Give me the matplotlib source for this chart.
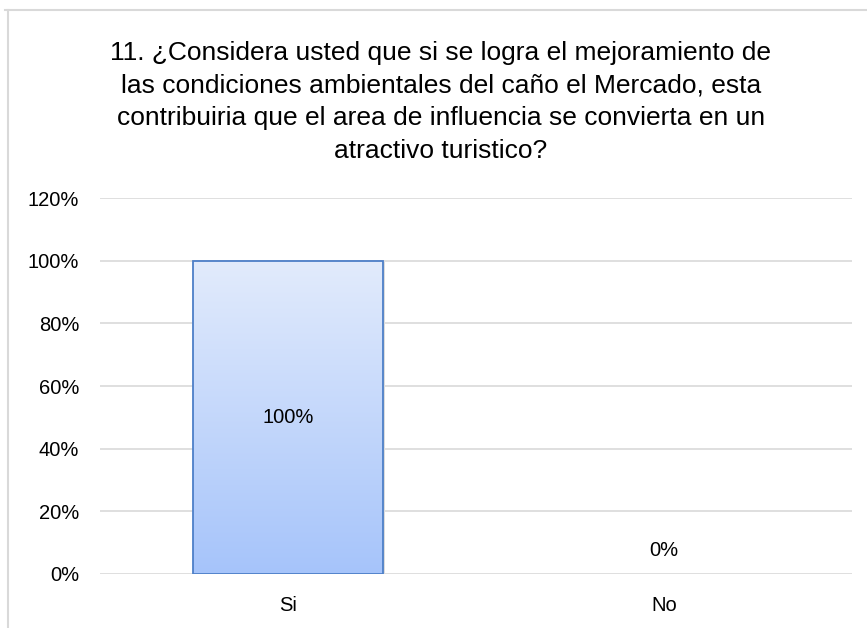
import numpy as np
import matplotlib
matplotlib.use("Agg")
import matplotlib.pyplot as plt
from matplotlib.colors import LinearSegmentedColormap
from matplotlib.lines import Line2D

# =========================
# Data
# =========================
categories = ["Si", "No"]
values = [1.00, 0.00]
labels = ["100%", "0%"]
yticks = [0.0, 0.2, 0.4, 0.6, 0.8, 1.0, 1.2]
title = ("11. ¿Considera usted que si se logra el mejoramiento de\n"
         "las condiciones ambientales del caño el Mercado, esta\n"
         "contribuiria que el area de influencia se convierta en un\n"
         "atractivo turistico?")

plt.rcParams["font.family"] = ["Liberation Sans", "DejaVu Sans"]

fig = plt.figure(figsize=(8.67, 6.28), dpi=100)
ax = fig.add_axes([0.1153, 0.086, 0.8674, 0.5987])

x = np.arange(len(categories))
bars = ax.bar(x, values, width=0.505, facecolor="none",
              edgecolor="#4d7fc8", linewidth=1.3, zorder=3)

# gradient fill inside each bar
cmap = LinearSegmentedColormap.from_list("grad", ["#a6c4fa", "#e2ebfc"])
grad = np.linspace(0, 1, 256).reshape(-1, 1)
for b in bars:
    h = b.get_height()
    if h <= 0:
        b.set_edgecolor("none")
        continue
    bx, bw = b.get_x(), b.get_width()
    # soft shadow
    ax.bar(bx + bw / 2 + 0.006, h, width=bw, bottom=-0.004,
           color="#dcdcdc", zorder=2, linewidth=0)
    im = ax.imshow(grad, cmap=cmap, origin="lower", aspect="auto",
                   extent=[bx, bx + bw, 0, h], zorder=2.5)
    im.set_clip_path(b)

# data labels
for xi, v, lab in zip(x, values, labels):
    if v > 0:
        ax.text(xi, v / 2, lab, ha="center", va="center", fontsize=14.5, zorder=4)
    else:
        ax.annotate(lab, (xi, 0), xytext=(0, 17), textcoords="offset points",
                    ha="center", va="center", fontsize=14.5)

ax.set_xlim(-0.5, 1.5)
ax.set_ylim(0, 1.2)
ax.set_yticks(yticks)
ax.set_yticklabels([f"{int(round(t * 100))}%" for t in yticks], fontsize=14.5)
ax.set_xticks(x)
ax.set_xticklabels(categories, fontsize=14.5)
ax.tick_params(axis="both", length=0)
ax.tick_params(axis="y", pad=15)
ax.tick_params(axis="x", pad=16)
ax.yaxis.grid(True, color="#d9d9d9", linewidth=1.2, zorder=0)
ax.set_axisbelow(True)
for s in ax.spines.values():
    s.set_visible(False)

fig.text(441 / 867, 1 - 102 / 628, title, ha="center", va="center",
         fontsize=19, linespacing=1.46)

# chart area border (top and left only visible)
fig.add_artist(Line2D([5 / 867, 1], [1 - 10 / 628] * 2, color="#d9d9d9",
                      linewidth=1.5, transform=fig.transFigure))
fig.add_artist(Line2D([8 / 867] * 2, [0, 1 - 10 / 628], color="#d9d9d9",
                      linewidth=1.5, transform=fig.transFigure))

fig.savefig("out.png", dpi=100)
